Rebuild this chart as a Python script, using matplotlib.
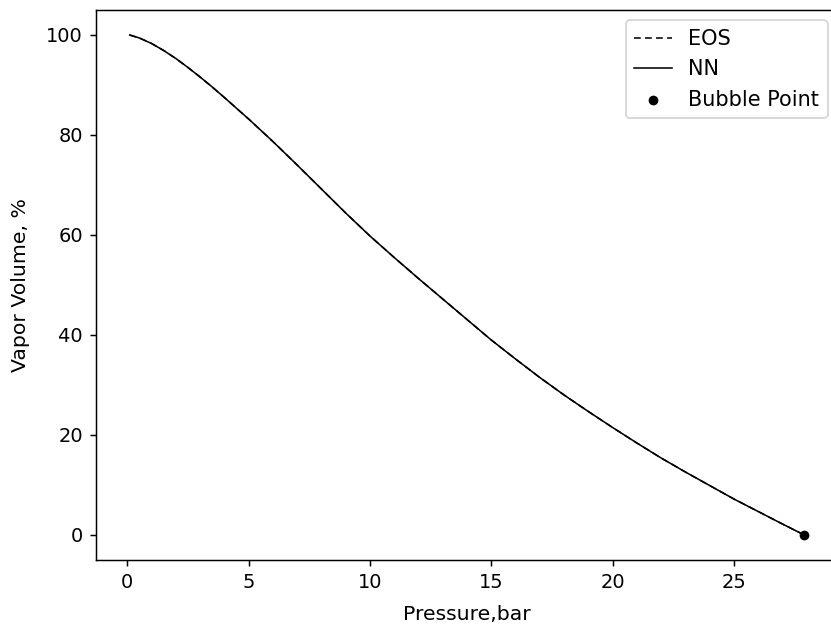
import matplotlib

matplotlib.use("Agg")

import matplotlib.pyplot as plt

# values
pressure = [0.1, 0.5, 1.0, 1.5, 2.0, 2.5, 3.0, 3.5, 4.0, 5.0, 6.0, 7.0, 8.0,
            9.0, 10.0, 11.0, 12.0, 13.0, 14.0, 15.0, 16.0, 17.0, 18.0, 19.0,
            20.0, 21.0, 22.0, 23.0, 24.0, 25.0, 26.0, 27.0, 27.9]
vapor_eos = [100.0, 99.4, 98.3, 96.9, 95.3, 93.5, 91.6, 89.6, 87.5, 83.2, 78.7,
             74.0, 69.2, 64.4, 59.8, 55.5, 51.3, 47.2, 43.1, 39.0, 35.2, 31.5,
             28.0, 24.7, 21.5, 18.4, 15.4, 12.6, 9.9, 7.2, 4.7, 2.2, 0.0]
vapor_nn = [100.0, 99.4, 98.3, 96.9, 95.3, 93.5, 91.6, 89.6, 87.5, 83.2, 78.7,
            74.0, 69.2, 64.4, 59.8, 55.5, 51.3, 47.2, 43.1, 39.0, 35.2, 31.5,
            28.0, 24.7, 21.5, 18.4, 15.4, 12.6, 9.9, 7.2, 4.7, 2.2, 0.0]
bubble_p = [27.9]
bubble_v = [0.0]


def plot_vapor(output_file: str = "out.png") -> None:
    dpi = 133.333
    fig = plt.figure(figsize=(831 / dpi, 630 / dpi), dpi=dpi)
    # the right spine sits just past the image edge, as in the reference
    ax = fig.add_axes([96 / 831, 70 / 630, 742 / 831, 550 / 630])

    ax.plot(pressure, vapor_eos, color="k", linestyle=(0, (4.3, 2.7)),
            linewidth=0.85, label="EOS")
    ax.plot(pressure, vapor_nn, color="k", linestyle="-", linewidth=0.85,
            label="NN")
    ax.scatter(bubble_p, bubble_v, color="k", s=18, zorder=3,
               label="Bubble Point")

    ax.set_ylim(-5, 105)
    ax.tick_params(labelsize=10.5)
    ax.set_xlabel("Pressure,bar", fontsize=11, labelpad=7)
    ax.set_ylabel("Vapor Volume, %", fontsize=11, labelpad=9)
    ax.legend(loc="upper right", fontsize=11.3, handlelength=1.8)

    fig.savefig(output_file, dpi=dpi)
    plt.close(fig)


if __name__ == "__main__":
    plot_vapor()
